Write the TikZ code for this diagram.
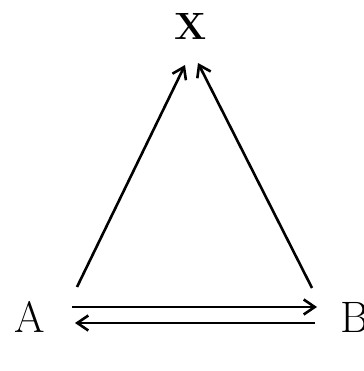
\documentclass[tikz,border=0pt]{standalone}
\usepackage{fontspec}
\usetikzlibrary{arrows.meta}
\begin{document}
\begin{tikzpicture}[x=1pt, y=1pt, >={Straight Barb[length=11pt, width=15pt]},
  vertex/.style={inner sep=0pt, font=\fontsize{44}{46}\selectfont},
  link/.style={->, line width=2.6pt}]
  \useasboundingbox (0,0) rectangle (363,371);
  \node[vertex, font=\fontsize{38}{40}\selectfont\bfseries] (X) at (191,345) {X};
  \node[vertex] (A) at (30,54) {A};
  \node[vertex] (B) at (355,54) {B};

  \draw[link] ([shift={(47,30)}]A.center) -- ([shift={(-6,-39)}]X.center);
  \draw[link] ([shift={(-43,29)}]B.center) -- ([shift={(7,-37)}]X.center);
  \draw[link] ([shift={(42,10)}]A.center) -- ([shift={(-38,10)}]B.center);
  \draw[link] ([shift={(-40,-6)}]B.center) -- ([shift={(45,-6)}]A.center);
\end{tikzpicture}
\end{document}
